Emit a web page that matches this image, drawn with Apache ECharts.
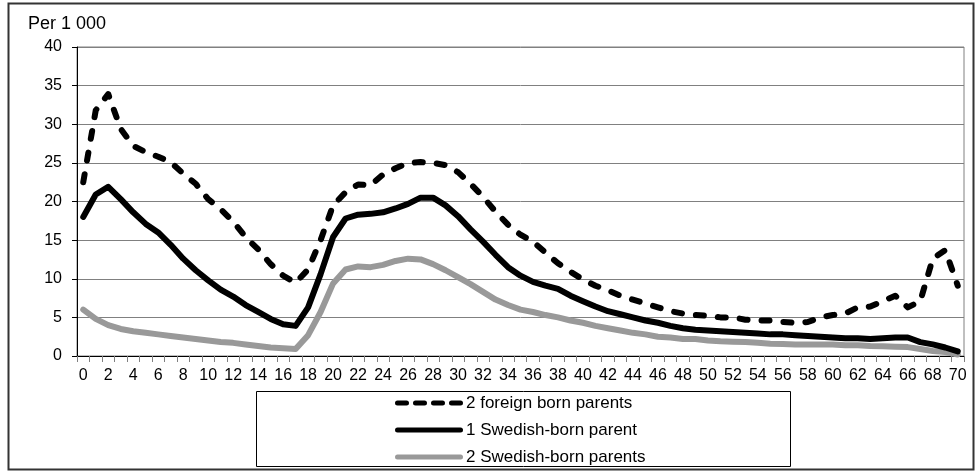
<!DOCTYPE html>
<html>
<head>
<meta charset="utf-8">
<script src="https://cdn.jsdelivr.net/npm/echarts@6/dist/echarts.min.js"></script>
<style>
html,body{margin:0;padding:0;background:#fff;}
#chart{width:976px;height:472px;}
</style>
</head>
<body>
<div id="chart"></div>
<script>
var ages = [];
for (var a = 0; a <= 70; a++) { ages.push(String(a)); }

var yTicks = [0, 5, 10, 15, 20, 25, 30, 35, 40];

var foreignBorn = [
  22.5, 31.8, 33.9, 29.4, 27.2, 26.4, 25.8, 25.1, 23.6, 22.3,
  20.3, 19.0, 17.4, 15.4, 13.8, 11.9, 10.4, 9.5, 11.2, 15.0,
  19.5, 21.2, 22.2, 22.1, 23.5, 24.3, 25.0, 25.1, 25.0, 24.7,
  23.8, 22.3, 20.6, 18.7, 17.0, 15.7, 14.8, 13.4, 12.0, 10.9,
  9.9, 9.1, 8.5, 7.8, 7.3, 6.8, 6.3, 5.8, 5.5, 5.3,
  5.2, 5.0, 5.0, 4.7, 4.6, 4.6, 4.4, 4.3, 4.4, 5.0,
  5.3, 5.5, 6.3, 6.4, 7.1, 7.8, 6.3, 7.1, 12.6, 13.7,
  9.1
];

var oneSwedish = [
  18.0, 20.9, 21.9, 20.3, 18.6, 17.1, 16.0, 14.4, 12.6, 11.1,
  9.8, 8.6, 7.7, 6.6, 5.7, 4.8, 4.1, 3.9, 6.3, 10.6,
  15.4, 17.8, 18.3, 18.4, 18.6, 19.1, 19.7, 20.5, 20.5, 19.5,
  18.1, 16.4, 14.8, 13.1, 11.5, 10.4, 9.6, 9.1, 8.7, 7.8,
  7.1, 6.4, 5.8, 5.4, 5.0, 4.6, 4.3, 3.9, 3.6, 3.4,
  3.3, 3.2, 3.1, 3.0, 2.9, 2.8, 2.8, 2.7, 2.6, 2.5,
  2.4, 2.3, 2.3, 2.2, 2.3, 2.4, 2.4, 1.8, 1.5, 1.1,
  0.6
];

var twoSwedish = [
  6.0, 4.8, 4.0, 3.5, 3.2, 3.0, 2.8, 2.6, 2.4, 2.2,
  2.0, 1.8, 1.7, 1.5, 1.3, 1.1, 1.0, 0.9, 2.7, 5.7,
  9.4, 11.2, 11.6, 11.5, 11.8, 12.3, 12.6, 12.5, 11.9, 11.1,
  10.2, 9.3, 8.3, 7.3, 6.6, 6.0, 5.7, 5.3, 5.0, 4.6,
  4.3, 3.9, 3.6, 3.3, 3.0, 2.8, 2.5, 2.4, 2.2, 2.2,
  2.0, 1.9, 1.85, 1.8, 1.7, 1.6, 1.55, 1.5, 1.5, 1.5,
  1.5, 1.4, 1.4, 1.3, 1.25, 1.2, 1.15, 0.9, 0.65, 0.5,
  0.2
];

var seriesNames = ['2 foreign born parents', '1 Swedish-born parent', '2 Swedish-born parents'];
var FONT = 'Liberation Sans';

var dashedIcon = 'path://M2.5,0H11.5A2.5,2.5 0 0 1 11.5,5H2.5A2.5,2.5 0 0 1 2.5,0Z' +
  'M20.5,0H29.5A2.5,2.5 0 0 1 29.5,5H20.5A2.5,2.5 0 0 1 20.5,0Z' +
  'M38.5,0H47.5A2.5,2.5 0 0 1 47.5,5H38.5A2.5,2.5 0 0 1 38.5,0Z' +
  'M56.5,0H65.5A2.5,2.5 0 0 1 65.5,5H56.5A2.5,2.5 0 0 1 56.5,0Z';
var solidIcon = 'path://M2.5,0H65.5A2.5,2.5 0 0 1 65.5,5H2.5A2.5,2.5 0 0 1 2.5,0Z';

var chart = echarts.init(document.getElementById('chart'), null, {renderer: 'canvas'});
chart.setOption({
  animation: false,
  backgroundColor: '#ffffff',
  title: {
    text: 'Per 1 000',
    left: 28, top: 15,
    padding: 0,
    textStyle: {fontFamily: FONT, fontSize: 18, fontWeight: 'normal', color: '#000'}
  },
  grid: {
    left: 77, right: 12, top: 47, bottom: 116,
    show: true, borderColor: '#808080', borderWidth: 1
  },
  xAxis: {
    type: 'category',
    data: ages,
    boundaryGap: true,
    axisLine: {lineStyle: {color: '#000', width: 1}},
    axisTick: {show: true, interval: 0, length: 6, lineStyle: {color: '#808080'}},
    axisLabel: {interval: 1, margin: 12, fontFamily: FONT, fontSize: 16, color: '#000'},
    splitLine: {show: false}
  },
  yAxis: {
    type: 'value',
    min: yTicks[0], max: yTicks[yTicks.length - 1], interval: yTicks[1] - yTicks[0],
    axisLine: {show: true, lineStyle: {color: '#000', width: 1}},
    axisTick: {show: true, length: 5, lineStyle: {color: '#000'}},
    axisLabel: {margin: 15, fontFamily: FONT, fontSize: 16, color: '#000'},
    splitLine: {show: true, lineStyle: {color: '#808080', width: 1}}
  },
  legend: {
    orient: 'vertical',
    left: 395, top: 394,
    padding: 0,
    itemWidth: 68, itemHeight: 5, itemGap: 9,
    data: [
      {name: seriesNames[0], icon: dashedIcon, itemStyle: {color: '#000000'}},
      {name: seriesNames[1], icon: solidIcon, itemStyle: {color: '#000000'}},
      {name: seriesNames[2], icon: solidIcon, itemStyle: {color: '#999999'}}
    ],
    textStyle: {fontFamily: FONT, fontSize: 17, lineHeight: 18, color: '#000', padding: [0, 0, 0, -2]}
  },
  graphic: [
    {type: 'rect', shape: {x: 8.5, y: 3.5, width: 965, height: 466}, style: {fill: 'none', stroke: '#333', lineWidth: 2}, silent: true, z: -1},
    {type: 'rect', shape: {x: 256.5, y: 391.5, width: 534, height: 75}, style: {fill: 'none', stroke: '#000', lineWidth: 1}, silent: true}
  ],
  series: [
    {
      name: seriesNames[2], type: 'line', data: twoSwedish, symbol: 'none', z: 2,
      lineStyle: {color: '#999999', width: 6, cap: 'round', join: 'round'},
      itemStyle: {color: '#999999'}
    },
    {
      name: seriesNames[1], type: 'line', data: oneSwedish, symbol: 'none', z: 3,
      lineStyle: {color: '#000000', width: 6, cap: 'round', join: 'round'},
      itemStyle: {color: '#000000'}
    },
    {
      name: seriesNames[0], type: 'line', data: foreignBorn, symbol: 'none', z: 4,
      lineStyle: {color: '#000000', width: 6, type: [8, 14], cap: 'round', join: 'round'},
      itemStyle: {color: '#000000'}
    }
  ]
});
</script>
</body>
</html>
